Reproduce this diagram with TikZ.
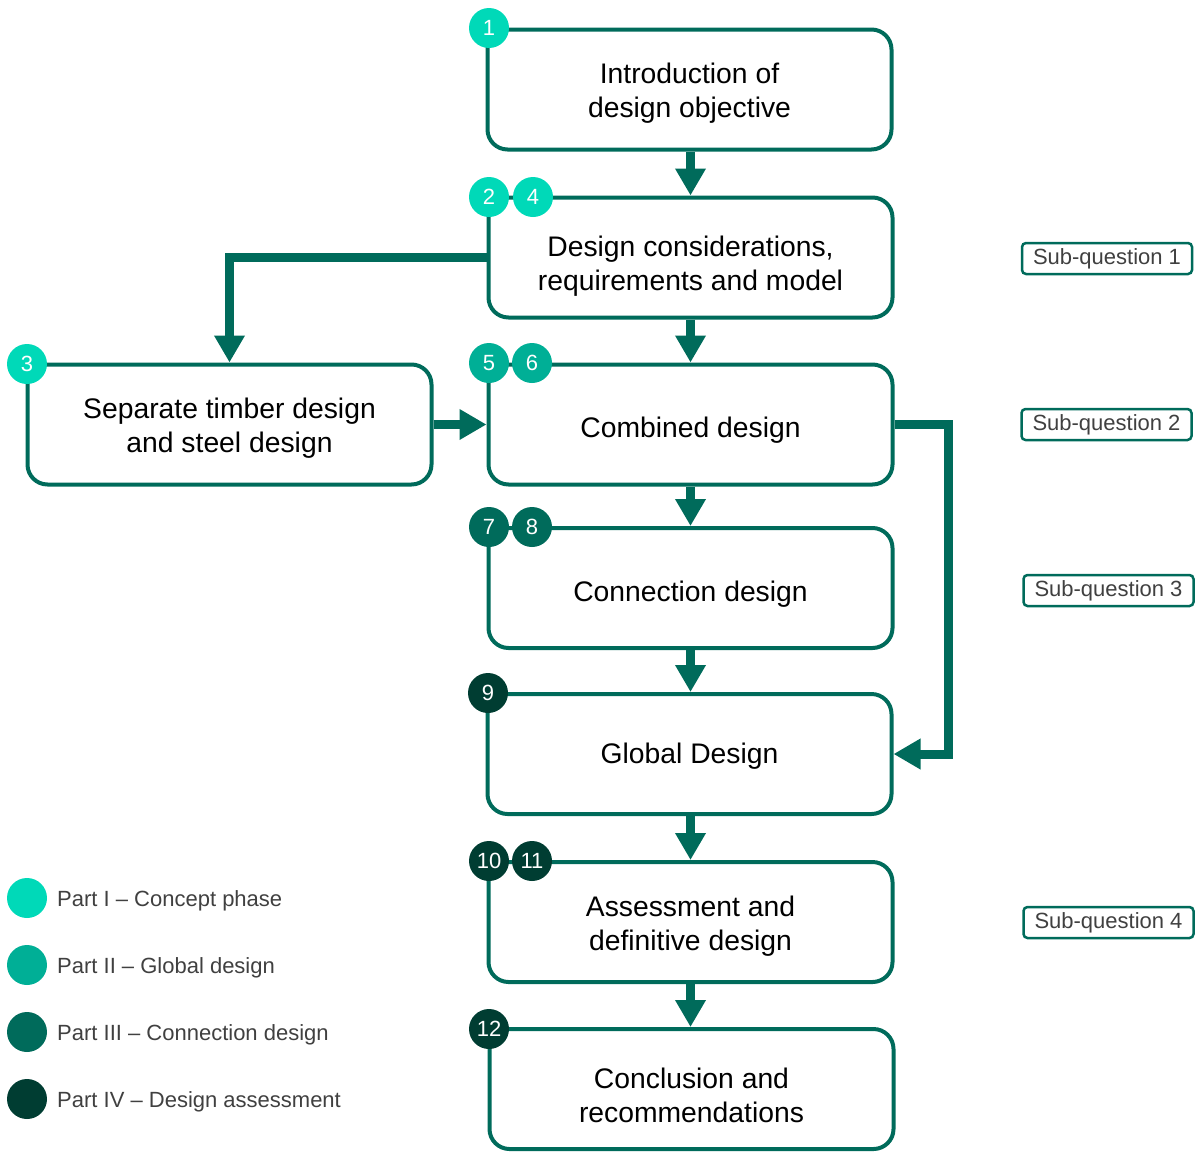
\documentclass[tikz,border=0pt]{standalone}
\usepackage{fontspec}
\setmainfont{Liberation Sans}
\usetikzlibrary{arrows.meta,calc}
\definecolor{mainc}{HTML}{006B5B}
\definecolor{pone}{HTML}{00D9B8}
\definecolor{ptwo}{HTML}{00AF96}
\definecolor{pthree}{HTML}{006B5B}
\definecolor{pfour}{HTML}{003D32}
\definecolor{legtext}{HTML}{404040}
\newcommand\boxtxt[2][-5pt]{\raisebox{#1}[\height][\depth]{\begin{tabular}{@{}c@{}}#2\end{tabular}}}
\tikzset{
  stepbox/.style={draw=mainc, line width=4pt, rounded corners=20pt, fill=white,
    minimum width=404pt, minimum height=120pt, align=center, inner sep=0pt,
    font=\fontsize{28.3}{34}\selectfont},
  num/.style={circle, minimum size=40pt, inner sep=0pt, text=white,
    font=\fontsize{22}{22}\selectfont},
  sq/.style={draw=mainc, line width=2.5pt, rounded corners=4pt, fill=white,
    minimum width=170pt, minimum height=31pt, inner sep=0pt, text=legtext,
    font=\fontsize{22}{22}\selectfont},
  legdot/.style={circle, minimum size=40pt, inner sep=0pt},
  legtxt/.style={anchor=west, text=legtext, inner sep=0pt, yshift=-2.5pt,
    font=\fontsize{22}{22}\selectfont},
  arr/.style={draw=mainc, line width=9pt, -{Triangle[width=29pt,length=27pt]}}
}
\begin{document}
\begin{tikzpicture}[x=1pt,y=-1pt]
\useasboundingbox (0,0) rectangle (1198,1151);

% boxes
\node[stepbox] (b1) at (689.5,89.5) {\boxtxt[-4pt]{Introduction of\\design objective}};
\node[stepbox] (b2) at (690.5,257.5) {\boxtxt[-9pt]{Design considerations,\\requirements and model}};
\node[stepbox] (b3) at (229.5,424.5) {\boxtxt[-4pt]{Separate timber design\\and steel design}};
\node[stepbox] (b5) at (690.5,424.5) {\boxtxt[-6pt]{Combined design}};
\node[stepbox] (b7) at (690.5,588) {\boxtxt[-7pt]{Connection design}};
\node[stepbox] (b9) at (689.5,754) {\boxtxt[-3pt]{Global Design}};
\node[stepbox] (b10) at (690.5,922) {\boxtxt[-5pt]{Assessment and\\definitive design}};
\node[stepbox] (b12) at (691.5,1089) {\boxtxt[-10pt]{Conclusion and\\recommendations}};

% arrows
\draw[arr] (b1.south -| b2.north) -- (b2.north);
\draw[arr] (b2.west) -| (b3.north);
\draw[arr] (b3.east) -- (b5.west);
\draw[arr] (b2.south) -- (b5.north);
\draw[arr] (b5.south) -- (b7.north);
\draw[arr] (b7.south) -- (b9.north -| b7.south);
\draw[arr] (b9.south -| b10.north) -- (b10.north);
\draw[arr] (b10.south) -- (b12.north -| b10.south);
\draw[arr] (b5.east) -- ++(54,0) |- (b9.east);

% number circles
\node[num, fill=pone] (n1) at (489,28) {1};
\node[num, fill=pone] (n2) at (489,197) {2};
\node[num, fill=pone] (n4) at (533,197) {4};
\node[num, fill=pone] (n3) at (27,364) {3};
\node[num, fill=ptwo] (n5) at (489,363) {5};
\node[num, fill=ptwo] (n6) at (532,363) {6};
\node[num, fill=pthree] (n7) at (489,527) {7};
\node[num, fill=pthree] (n8) at (532,527) {8};
\node[num, fill=pfour] (n9) at (488,693) {9};
\node[num, fill=pfour] (n10) at (489,861) {10};
\node[num, fill=pfour] (n11) at (532,861) {11};
\node[num, fill=pfour] (n12) at (489,1029) {12};

% sub-questions
\node[sq] (s1) at (1107,258.5) {Sub-question 1};
\node[sq] (s2) at (1106.5,424.5) {Sub-question 2};
\node[sq] (s3) at (1108.5,590.5) {Sub-question 3};
\node[sq] (s4) at (1108.5,922.5) {Sub-question 4};

% legend
\node[legdot, fill=pone] (l1) at (27,898) {};
\node[legdot, fill=ptwo] (l2) at (27,965) {};
\node[legdot, fill=pthree] (l3) at (27,1032) {};
\node[legdot, fill=pfour] (l4) at (27,1099) {};
\node[legtxt] (t1) at (57,898) {Part I -- Concept phase};
\node[legtxt] (t2) at (57,965) {Part II -- Global design};
\node[legtxt] (t3) at (57,1032) {Part III -- Connection design};
\node[legtxt] (t4) at (57,1099) {Part IV -- Design assessment};
\end{tikzpicture}
\end{document}
